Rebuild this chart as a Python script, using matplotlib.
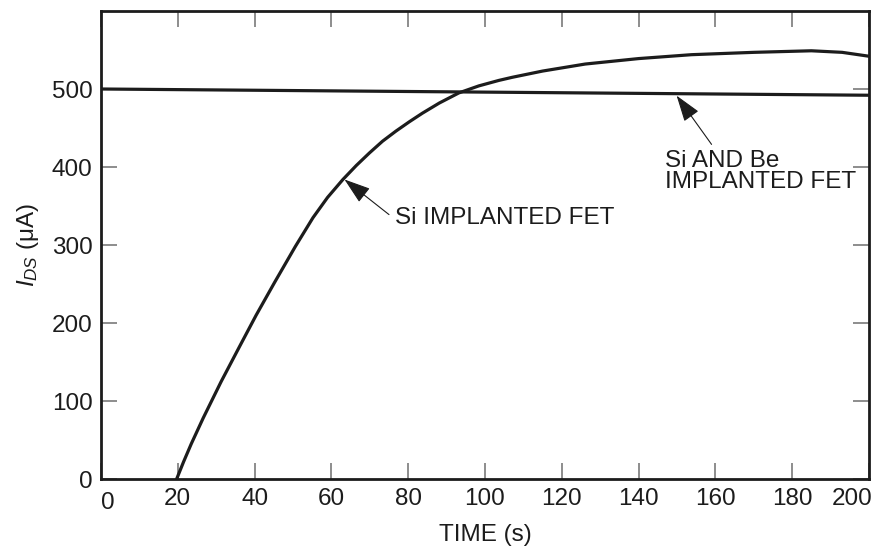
import matplotlib
matplotlib.use("Agg")
import matplotlib.pyplot as plt
import matplotlib.transforms as mtransforms

# ---- data ----
si_time = [19.7, 21.5, 23.5, 26.6, 31.3, 36.1, 40.4, 45.2, 50.6, 55.2,
           59.0, 63.0, 66.5, 69.9, 73.3, 76.8, 80.3, 83.7, 88.1, 93.2,
           98.4, 103.6, 107.1, 115.0, 126.1, 140.0, 153.8, 170.0, 185.0,
           193.0, 200.0]
si_ids = [0, 22, 45, 78, 125, 170, 210, 252, 298, 335,
          361, 384, 402, 418, 433, 446, 458, 469, 482, 495,
          504, 511, 515, 523, 532, 539, 544, 547, 549,
          547, 542]

be_time = [0, 200]
be_ids = [500, 492]

x_ticks = [0, 20, 40, 60, 80, 100, 120, 140, 160, 180, 200]
y_ticks = [0, 100, 200, 300, 400, 500]

label_si = "Si IMPLANTED FET"
label_be = "Si AND Be\nIMPLANTED FET"

# ---- style ----
plt.rcParams['font.family'] = ['Liberation Sans', 'DejaVu Sans']
plt.rcParams['mathtext.fontset'] = 'custom'
plt.rcParams['mathtext.rm'] = 'Liberation Sans'
plt.rcParams['mathtext.it'] = 'Liberation Sans:italic'

FS = 17.5
ink = '#1c1c1c'
tickc = '#7a7a7a'

fig = plt.figure(figsize=(8.78, 5.52), dpi=100)
ax = fig.add_axes([101/878, 1-479/552, (869-101)/878, (479-11)/552])

ax.plot(si_time, si_ids, color=ink, lw=2.3, solid_joinstyle='round')
ax.plot(be_time, be_ids, color=ink, lw=2.3)

ax.set_xlim(0, 200)
ax.set_ylim(0, 600)
ax.set_xticks(x_ticks)
ax.set_yticks(y_ticks)

for s in ax.spines.values():
    s.set_linewidth(2.0)
    s.set_color(ink)

ax.tick_params(which='both', direction='in', length=11.5, width=1.2,
               color=tickc, top=True, right=True, labelsize=FS,
               labelcolor=ink)
ax.tick_params(axis='x', pad=6.5)
ax.tick_params(axis='y', pad=6)

# small offsets of the end labels as in the reference
xl = ax.get_xticklabels()
xl[0].set_transform(xl[0].get_transform() +
                    mtransforms.ScaledTranslation(7/100, -4/100, fig.dpi_scale_trans))
xl[-1].set_transform(xl[-1].get_transform() +
                     mtransforms.ScaledTranslation(-17/100, 0, fig.dpi_scale_trans))

ax.set_xlabel("TIME (s)", fontsize=FS, color=ink, labelpad=7)
ax.set_ylabel(r"$I_{DS}$ (μA)", fontsize=FS, color=ink, labelpad=8)

arrow = dict(arrowstyle='-|>,head_length=0.75,head_width=0.25',
             mutation_scale=22, lw=0.8, color=ink, shrinkA=0, shrinkB=0)

ax.annotate("", xy=(63.4, 384), xytext=(75.0, 339), arrowprops=arrow)
ax.text(76.6, 334.5, label_si, fontsize=FS, color=ink, ha='left', va='center')

ax.annotate("", xy=(149.9, 491.5), xytext=(159.0, 429), arrowprops=arrow)
ax.text(146.9, 394.5, label_be, fontsize=FS, color=ink, ha='left', va='center',
        linespacing=0.95)

fig.savefig("out.png", dpi=100)
